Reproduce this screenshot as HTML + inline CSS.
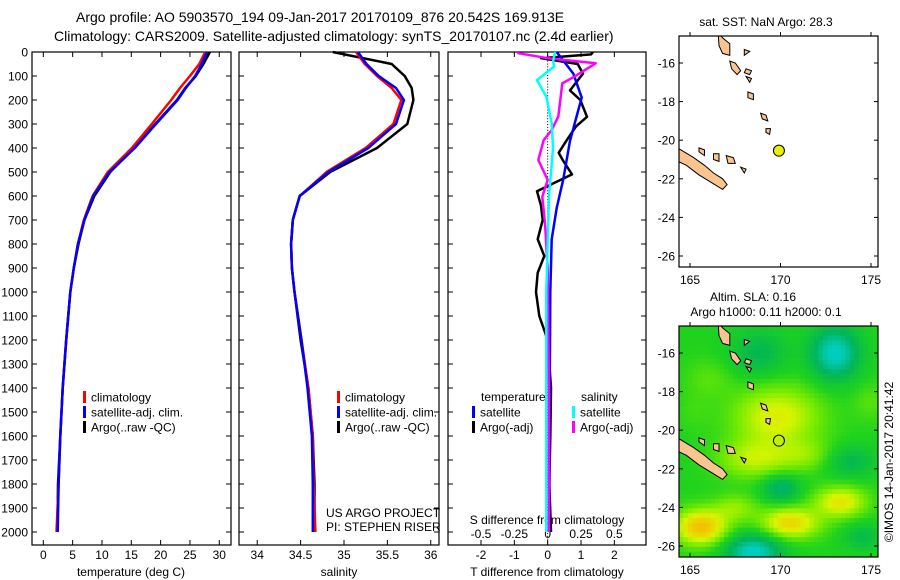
<!DOCTYPE html>
<html><head><meta charset="utf-8">
<style>
html,body{margin:0;padding:0;background:#fff;}
svg{display:block;font-family:"Liberation Sans",sans-serif;}
text{fill:#000;}
</style></head>
<body>
<svg id="fig" width="900" height="580" viewBox="0 0 900 580" xmlns="http://www.w3.org/2000/svg">
<defs>
<clipPath id="clip1"><rect x="679" y="36" width="199" height="231"/></clipPath>
<clipPath id="clip2"><rect x="679" y="326" width="199" height="231"/></clipPath>
</defs>
<text x="76" y="22" font-size="14">Argo profile: AO 5903570_194 09-Jan-2017 20170109_876 20.542S 169.913E</text>
<text x="54" y="41" font-size="14">Climatology: CARS2009. Satellite-adjusted climatology: synTS_20170107.nc (2.4d earlier)</text>
<g id="p1"></g>
<g id="p2"></g>
<g id="p3"></g>
<g id="m1"></g>
<g id="m2"></g>
<text transform="translate(893,462) rotate(-90)" text-anchor="middle" font-size="12">©IMOS 14-Jan-2017 20:41:42</text>
</svg>
<script>
// ---- profile data ----
const depths = [0,50,100,150,200,300,400,500,600,700,800,900,1000,1200,1400,1600,1800,2000];
const tempClim = [27.6,26.6,25.0,23.3,21.8,18.5,15.1,11.0,8.4,6.9,5.9,5.2,4.6,3.9,3.3,2.9,2.6,2.25];
const tempSat  = [27.9,27.0,25.9,24.3,22.9,19.2,15.6,11.3,8.5,7.0,5.9,5.2,4.6,3.9,3.3,2.9,2.6,2.45];
const tempArgo = [28.4,27.3,26.0,24.2,22.8,19.1,15.5,11.4,8.7,7.0,6.0,5.2,4.6,3.9,3.3,2.9,2.5,2.4];
const salClim = [35.14,35.24,35.38,35.55,35.66,35.57,35.25,34.80,34.49,34.41,34.39,34.40,34.43,34.51,34.59,34.64,34.65,34.67];
const salSat  = [35.16,35.26,35.40,35.60,35.69,35.60,35.28,34.82,34.49,34.41,34.39,34.40,34.43,34.51,34.58,34.63,34.64,34.64];
const salArgo = [34.87,35.55,35.70,35.78,35.80,35.73,35.38,34.84,34.49,34.41,34.39,34.40,34.43,34.50,34.59,34.64,34.66,34.66];
const tSatDiffDepth = [0,90,190,370,530,650,780,1000,1400,2000];
const tSatDiff = [0.27,0.77,1.02,0.67,0.47,0.27,0.12,0.08,0.06,0.05];
const tArgoDiffDepth = [0,10,26,50,90,160,200,270,310,370,420,450,510,550,580,640,700,780,850,920,1000,1100,1200,1300,1400,1600,1800,2000];
const tArgoDiff = [1.36,1.3,-0.2,0.9,1.06,0.67,0.98,1.18,0.85,0.56,0.33,0.45,0.73,0.13,-0.32,-0.2,-0.15,-0.3,-0.1,-0.3,-0.35,-0.25,0.0,0.05,0.1,0.08,0.05,0.1];
const sSatDiffDepth = [0,40,60,117,186,297,400,600,1000,1500,2000];
const sSatDiff = [0.055,0.04,0.05,-0.08,-0.01,0.03,0.04,0.01,-0.01,-0.01,-0.01];
const sArgoDiffDepth = [0,5,26,47,103,131,269,325,367,450,533,603,714,900,1400,2000];
const sArgoDiff = [-0.22,-0.22,0.0,0.36,0.2,0.11,0.08,0.03,-0.03,-0.07,0.0,-0.04,-0.02,0.0,0.01,0.01];
const depthTicks = [0,100,200,300,400,500,600,700,800,900,1000,1100,1200,1300,1400,1500,1600,1700,1800,1900,2000];
const tempTicks = [0,5,10,15,20,25,30];
const salTicks = [34,34.5,35,35.5,36];
const tdiffTicks = [-2,-1,0,1,2];
const sdiffTicks = [-0.5,-0.25,0,0.25,0.5];
const sdiffTickLabels = ["-0.5","-0.25","0","0.25","0.5"];

const NS="http://www.w3.org/2000/svg";
function mk(tag,attrs,parent){const e=document.createElementNS(NS,tag);for(const k in attrs)e.setAttribute(k,attrs[k]);parent.appendChild(e);return e;}
const yD = d => 52 + d*0.24;
const TOP=52, BOT=545;

function panel(g,x0,x1,xmin,xmax){
  const sx = v => x0 + (v-xmin)/(xmax-xmin)*(x1-x0);
  const r=mk('rect',{x:x0,y:TOP,width:x1-x0,height:BOT-TOP,fill:'none',stroke:'#000','stroke-width':1.2},g);
  
  
  depthTicks.forEach(d=>{
    mk('line',{x1:x0,x2:x0+5,y1:yD(d),y2:yD(d),stroke:'#000'},g);
    mk('line',{x1:x1,x2:x1-5,y1:yD(d),y2:yD(d),stroke:'#000'},g);
  });
  return sx;
}
function line(g,xs,ds,sx,color,name,w){
  const pts=xs.map((v,i)=>sx(v).toFixed(1)+','+yD(ds[i]).toFixed(1)).join(' ');
  const p=mk('polyline',{points:pts,fill:'none',stroke:color,'stroke-width':w||2.5,'stroke-linejoin':'round'},g);
  
  
}
function xticks(g,sx,ticks,labels,y){
  ticks.forEach((t,i)=>{
    mk('line',{x1:sx(t),x2:sx(t),y1:BOT,y2:BOT-5,stroke:'#000'},g);
    mk('line',{x1:sx(t),x2:sx(t),y1:TOP,y2:TOP+5,stroke:'#000'},g);
    const tx=mk('text',{x:sx(t),y:y,'text-anchor':'middle','font-size':12},g);
    tx.textContent=labels?labels[i]:String(t);
    
    
  });
}
function legend(g,x,y,items){
  items.forEach((it,i)=>{
    mk('rect',{x:x,y:y+i*15-6,width:3,height:12,fill:it[1]},g);
    const t=mk('text',{x:x+8,y:y+i*15+4.5,'font-size':12},g);
    t.textContent=it[0];
    
    
  });
}
function label(g,x,y,txt,name,anchor){
  const t=mk('text',{x:x,y:y,'font-size':12,'text-anchor':anchor||'middle'},g);
  t.textContent=txt;
  
  
}

// Panel 1
const g1=document.getElementById('p1');
const sx1=panel(g1,32,231,-1.93,32);
depthTicks.forEach(d=>label(g1,28,yD(d)+4.5,String(d),'y-tick-label','end'));
xticks(g1,sx1,tempTicks,null,559);
label(g1,131,576,'temperature (deg C)','x-axis-title');
line(g1,tempArgo,depths,sx1,'#000','argo-temperature-line');
line(g1,tempClim,depths,sx1,'#f00','climatology-temperature-line');
line(g1,tempSat,depths,sx1,'#00f','satellite-temperature-line');
legend(g1,83,397,[['climatology','#f00'],['satellite-adj. clim.','#00f'],['Argo(..raw -QC)','#000']]);

// Panel 2
const g2=document.getElementById('p2');
const sx2=panel(g2,239,439,33.79,36.095);
xticks(g2,sx2,salTicks,['34','34.5','35','35.5','36'],559);
label(g2,339,576,'salinity','x-axis-title');
line(g2,salArgo,depths,sx2,'#000','argo-salinity-line');
line(g2,salClim,depths,sx2,'#f00','climatology-salinity-line');
line(g2,salSat,depths,sx2,'#00f','satellite-salinity-line');
legend(g2,337,397,[['climatology','#f00'],['satellite-adj. clim.','#00f'],['Argo(..raw -QC)','#000']]);
label(g2,326,517,'US ARGO PROJECT','credit-project','start');
label(g2,326,531,'PI: STEPHEN RISER','credit-pi','start');

// Panel 3
const g3=document.getElementById('p3');
const sx3=panel(g3,448,646,-2.99,2.95);
const sxS = s => sx3(s*4);
for(let d=0; d<=2050; d+=12){mk('rect',{x:sx3(0)-0.5,y:yD(d),width:1,height:1,fill:'#000'},g3);}
xticks(g3,sx3,tdiffTicks,null,559);
label(g3,547,576,'T difference from climatology','x-axis-title');
sdiffTicks.forEach((s,i)=>{
  label(g3,sxS(s),538,sdiffTickLabels[i],'s-tick-label');
});
label(g3,547,524,'S difference from climatology','s-axis-title');
line(g3,tArgoDiff,tArgoDiffDepth,sx3,'#000','argo-t-diff-line');
line(g3,tSatDiff,tSatDiffDepth,sx3,'#00f','satellite-t-diff-line');
line(g3,sArgoDiff,sArgoDiffDepth,sxS,'#f0f','argo-s-diff-line');
line(g3,sSatDiff,sSatDiffDepth,sxS,'#0ff','satellite-s-diff-line');
label(g3,481,401,'temperature','legend-temperature-header','start');
label(g3,581,401,'salinity','legend-salinity-header','start');
legend(g3,472,412,[['satellite','#00f'],['Argo(-adj)','#000']]);
legend(g3,572,412,[['satellite','#0ff'],['Argo(-adj)','#f0f']]);

// ---- Maps ----
const latTicks=[-16,-18,-20,-22,-24,-26];
const lonTicks=[165,170,175];
const islands=[
 [[163.9,-20.2],[164.5,-20.5],[165.2,-20.9],[165.8,-21.3],[166.3,-21.7],[166.8,-22.0],[167.05,-22.3],[166.8,-22.55],[166.2,-22.2],[165.5,-21.8],[164.8,-21.3],[163.9,-20.9]],
 [[166.55,-14.4],[166.8,-14.7],[167.2,-15.0],[167.2,-15.6],[166.8,-15.5],[166.6,-15.1]],
 [[167.2,-15.9],[167.5,-16.0],[167.8,-16.4],[167.6,-16.6],[167.3,-16.3]],
 [[168.0,-15.3],[168.3,-15.4],[168.0,-15.6]],
 [[168.1,-16.3],[168.4,-16.4],[168.3,-16.6],[168.0,-16.5]],
 [[168.1,-16.7],[168.4,-16.8],[168.3,-17.0]],
 [[168.2,-17.5],[168.5,-17.6],[168.5,-17.9],[168.2,-17.8]],
 [[168.9,-18.6],[169.2,-18.7],[169.3,-19.0],[169.0,-18.9]],
 [[169.2,-19.4],[169.45,-19.4],[169.4,-19.7],[169.2,-19.6]],
 [[165.5,-20.4],[165.8,-20.5],[165.8,-20.8],[165.5,-20.6]],
 [[166.3,-20.7],[166.6,-20.7],[166.6,-21.1],[166.3,-21.0]],
 [[167.0,-20.8],[167.4,-20.9],[167.5,-21.2],[167.1,-21.2]],
 [[167.8,-21.4],[168.1,-21.5],[168.0,-21.7]]
];
const argoLon=169.913, argoLat=-20.542;
function map(gid,y0,titles,heat,clip){
  const g=document.getElementById(gid);
  const X0=679,X1=878,Y0=y0,Y1=y0+231;
  const px = lon => 690+(lon-165)*18.1;
  const py = lat => y0+27+(-16-lat)*19.3;
  const cg=mk('g',{'clip-path':'url(#'+clip+')'},g);
  if(heat){
    // [lon, lat, amplitude, sigmaLon, sigmaLat]
    const blobs=[[169.8,-19.3,1.1,2.4,1.6],[168.5,-21.5,0.8,2.0,1.0],[171.5,-21.3,0.5,1.6,0.8],[165.6,-25.0,1.7,1.4,0.9],[170.5,-24.8,1.4,1.6,0.8],[173.3,-23.7,1.2,1.4,0.8],[167.5,-24.0,0.6,1.2,0.7],
      [173.0,-16.0,-1.7,1.3,1.3],[168.5,-26.3,-1.7,1.5,0.9],[170.0,-23.0,-1.0,1.0,0.7],[173.8,-21.6,-0.7,1.4,0.8],[168.8,-16.0,-0.7,1.5,1.2],[166.0,-17.3,0.3,1.3,1.0],[175,-18.5,0.3,1,1],[165.2,-19.0,0.15,1,1],[174.5,-25.5,-0.6,1.0,0.7]];
    const cmap=[[-1.6,[0,205,190]],[-0.8,[0,180,90]],[0,[30,210,30]],[0.5,[120,235,0]],[1.0,[215,245,0]],[1.5,[240,205,0]],[2.0,[245,170,0]]];
    const col=v=>{if(v<=cmap[0][0])return cmap[0][1];for(let i=1;i<cmap.length;i++){if(v<=cmap[i][0]){const a=cmap[i-1],b=cmap[i],t=(v-a[0])/(b[0]-a[0]);return a[1].map((c,k)=>Math.round(c+(b[1][k]-c)*t));}}return cmap[cmap.length-1][1];};
    for(let x=X0;x<X1;x+=4.5){for(let y=Y0;y<Y1;y+=4.8){
      const lon=165+(x+2-690)/18.1, lat=-16-(y+2-(y0+27))/19.3;
      let v=0;blobs.forEach(b=>{const d2=((lon-b[0])/b[3])**2+((lat-b[1])/b[4])**2;v+=b[2]*Math.exp(-d2);});
      const c=col(v);
      mk('rect',{x:x.toFixed(1),y:y.toFixed(1),width:4.8,height:5.1,fill:`rgb(${c[0]},${c[1]},${c[2]})`},cg);
    }}
  }
  islands.forEach(poly=>{
    const p=mk('polygon',{points:poly.map(q=>px(q[0]).toFixed(1)+','+py(q[1]).toFixed(1)).join(' '),fill:'#fcc590',stroke:'#000','stroke-width':1},cg);
    
    
  });
  const c=mk('circle',{cx:px(argoLon),cy:py(argoLat),r:5.5,fill:heat?'none':'#eaf000',stroke:'#000','stroke-width':1},g);
  
  
  mk('rect',{x:X0,y:Y0,width:X1-X0,height:Y1-Y0,fill:'none',stroke:'#000','stroke-width':1.2},g);
  latTicks.forEach(l=>{
    mk('line',{x1:X0,x2:X0+4,y1:py(l),y2:py(l),stroke:'#000'},g);
    mk('line',{x1:X1,x2:X1-4,y1:py(l),y2:py(l),stroke:'#000'},g);
    label(g,X0-4,py(l)+4.5,String(l),'lat-tick-label','end');
  });
  lonTicks.forEach(l=>{
    mk('line',{x1:px(l),x2:px(l),y1:Y1,y2:Y1-4,stroke:'#000'},g);
    mk('line',{x1:px(l),x2:px(l),y1:Y0,y2:Y0-4,stroke:'#000'},g);
    label(g,px(l),Y1+17,String(l),'lon-tick-label');
  });
  titles.forEach((t,i)=>label(g,t[1],t[2],t[0],'map-title'));
}
map('m1',36,[['sat. SST: NaN Argo: 28.3',766,26]],false,'clip1');
map('m2',326,[['Altim. SLA: 0.16',753,301],['Argo h1000: 0.11 h2000: 0.1',766,316]],true,'clip2');
</script>
</body></html>
